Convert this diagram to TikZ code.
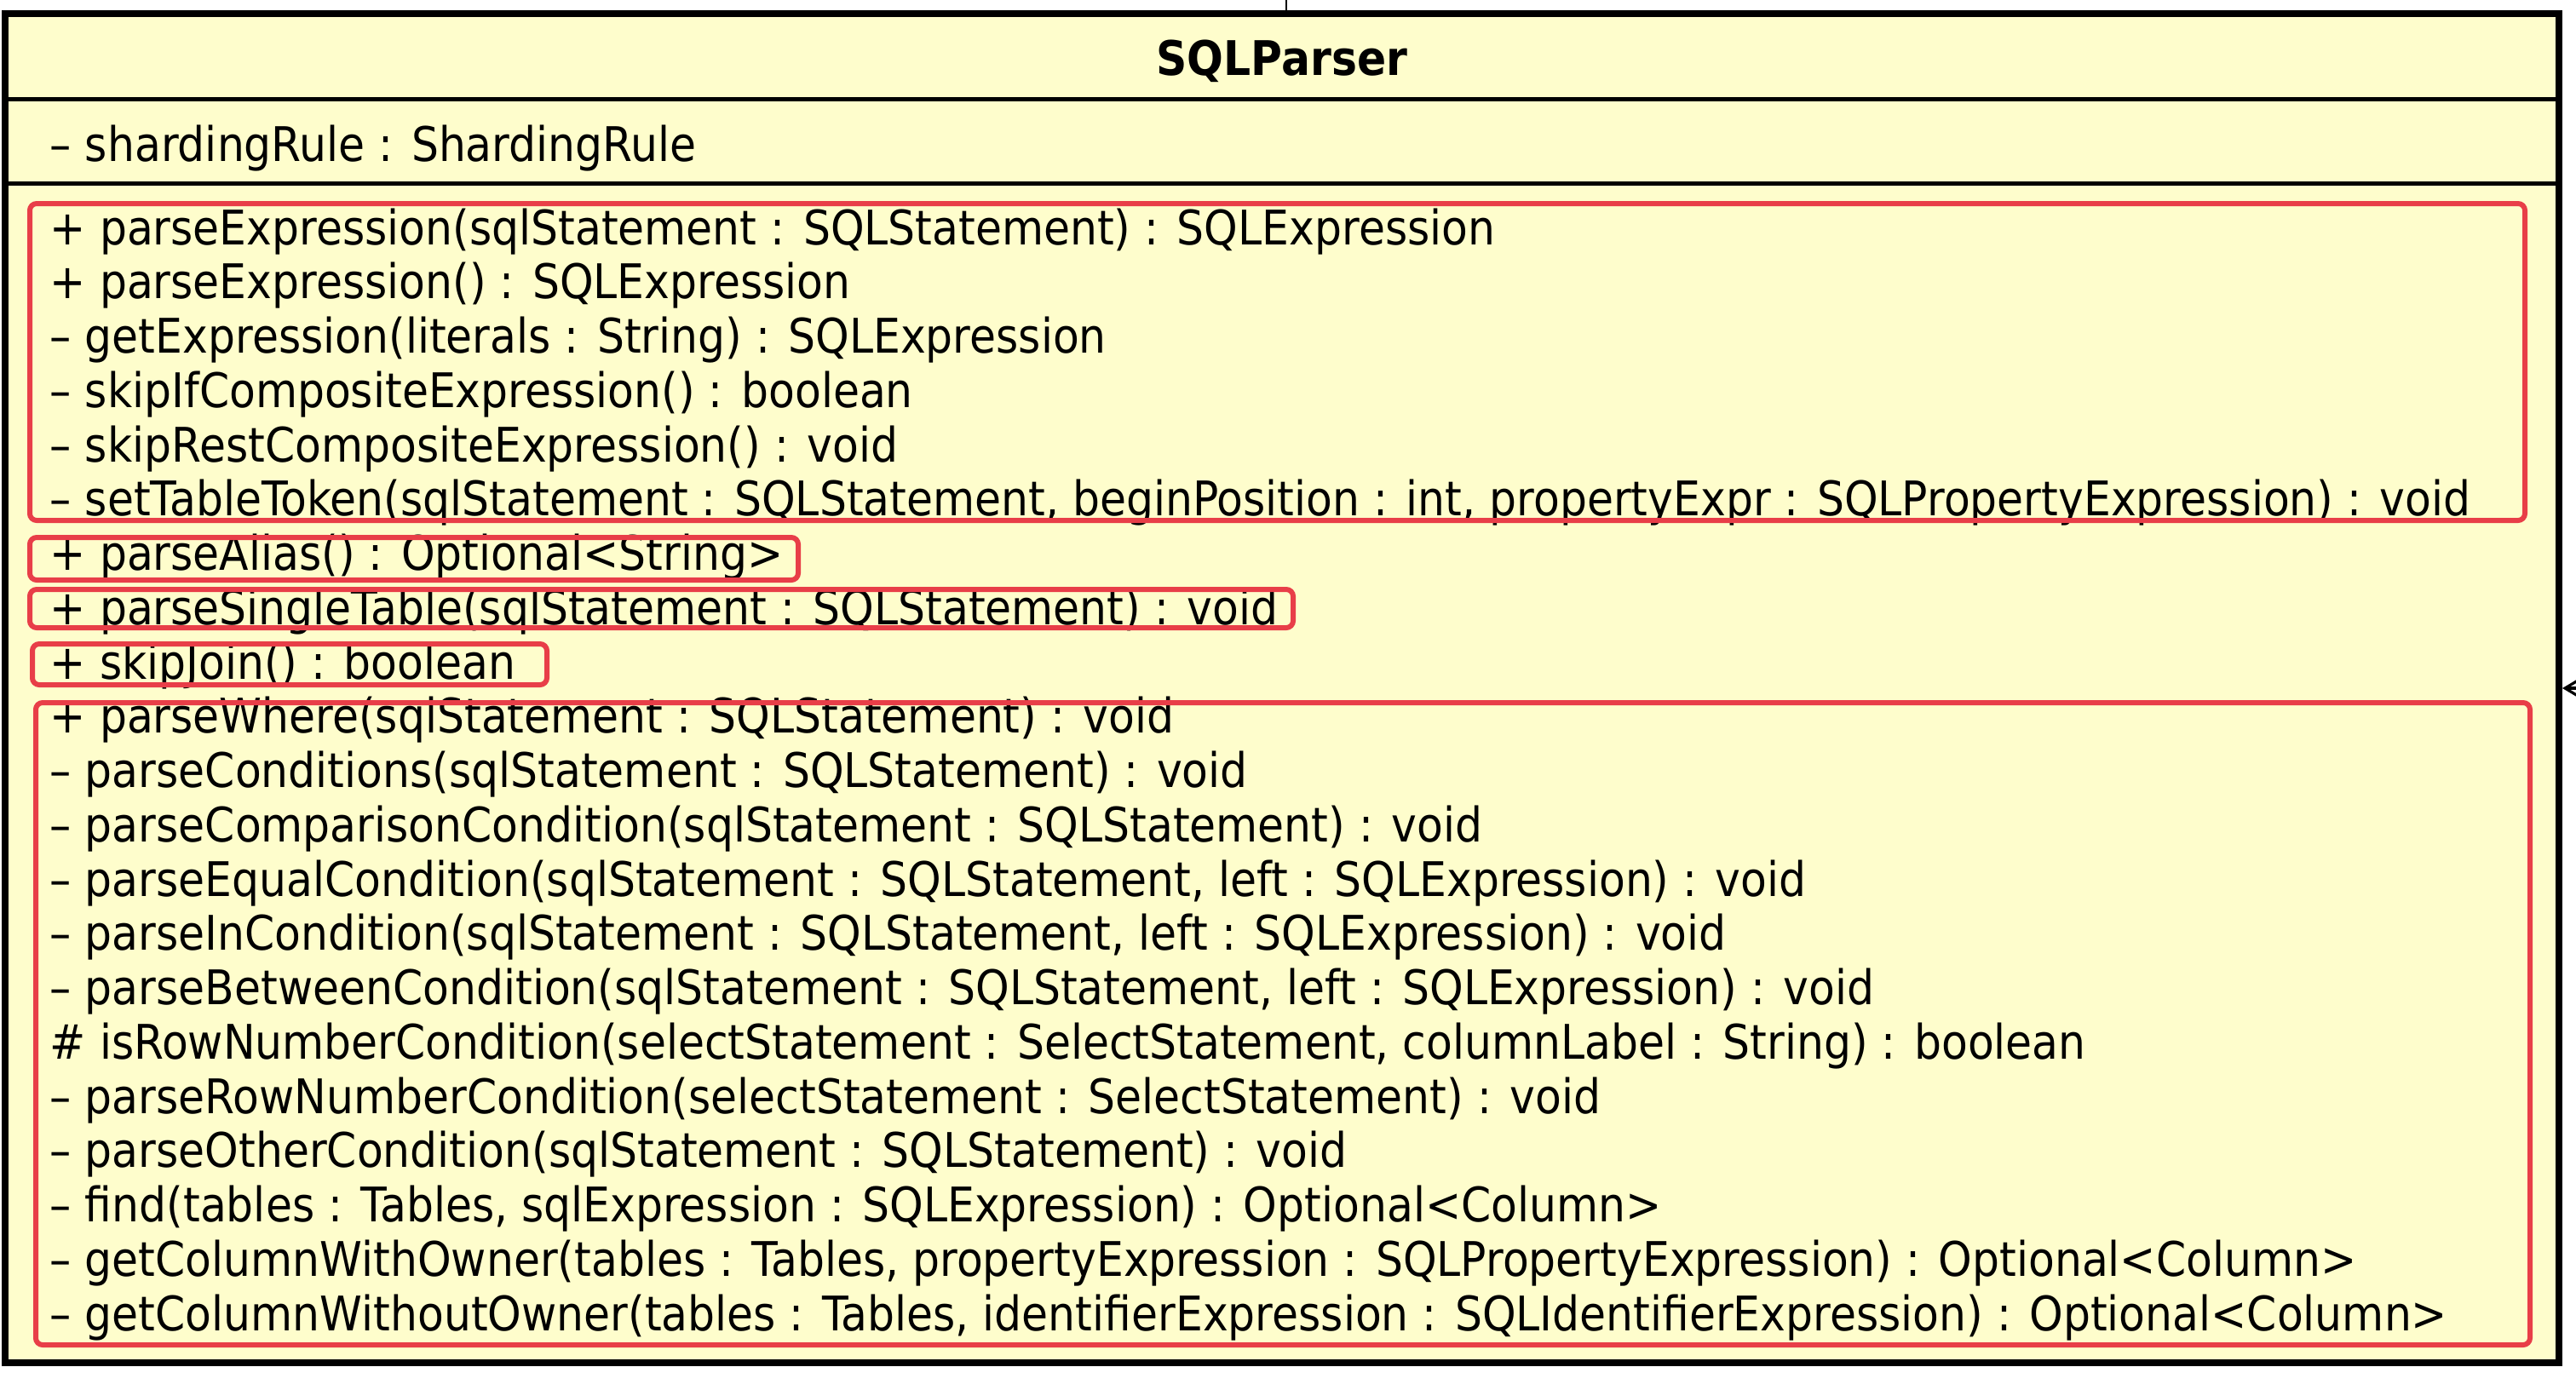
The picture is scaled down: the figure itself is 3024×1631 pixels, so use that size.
\documentclass[tikz,border=0pt]{standalone}
\usepackage{fontspec}
\setmainfont{DejaVu Sans}[FakeStretch=0.9]
\usetikzlibrary{arrows.meta}
\definecolor{umlfill}{RGB}{254,253,204}
\definecolor{hl}{RGB}{232,62,72}
\begin{document}
\begin{tikzpicture}[x=0.25pt,y=-0.25pt,
  member/.style={anchor=base west, inner sep=0pt, font=\fontsize{14}{16}\selectfont},
  sepline/.style={line width=1.25pt},
  hlbox/.style={draw=hl, line width=1.5pt, rounded corners=2pt},
  classbox/.style={draw, line width=2pt, fill=umlfill, minimum width=749.5pt, minimum height=396pt, inner sep=0pt}]
\useasboundingbox (0,0) rectangle (3024,1631);
\node[classbox] (cls) at (1505,808) {};
\draw[sepline] (cls.west |- 0,116) -- (cls.east |- 0,116);
\draw[sepline] (cls.west |- 0,215) -- (cls.east |- 0,215);
\node[anchor=base, inner sep=0pt, font=\fontsize{14}{16}\selectfont\bfseries] (title) at (1505,88) {SQLParser};
\node[member] (attr) at (58,189) {– shardingRule : ShardingRule};
\foreach \t [count=\i] in {
 {+ parseExpression(sqlStatement : SQLStatement) : SQLExpression},
 {+ parseExpression() : SQLExpression},
 {– getExpression(literals : String) : SQLExpression},
 {– skipIfCompositeExpression() : boolean},
 {– skipRestCompositeExpression() : void},
 {– setTableToken(sqlStatement : SQLStatement, beginPosition : int, propertyExpr : SQLPropertyExpression) : void},
 {+ parseAlias() : Optional<String>},
 {+ parseSingleTable(sqlStatement : SQLStatement) : void},
 {+ skipJoin() : boolean},
 {+ parseWhere(sqlStatement : SQLStatement) : void},
 {– parseConditions(sqlStatement : SQLStatement) : void},
 {– parseComparisonCondition(sqlStatement : SQLStatement) : void},
 {– parseEqualCondition(sqlStatement : SQLStatement, left : SQLExpression) : void},
 {– parseInCondition(sqlStatement : SQLStatement, left : SQLExpression) : void},
 {– parseBetweenCondition(sqlStatement : SQLStatement, left : SQLExpression) : void},
 {\# isRowNumberCondition(selectStatement : SelectStatement, columnLabel : String) : boolean},
 {– parseRowNumberCondition(selectStatement : SelectStatement) : void},
 {– parseOtherCondition(sqlStatement : SQLStatement) : void},
 {– find(tables : Tables, sqlExpression : SQLExpression) : Optional<Column>},
 {– getColumnWithOwner(tables : Tables, propertyExpression : SQLPropertyExpression) : Optional<Column>},
 {– getColumnWithoutOwner(tables : Tables, identifierExpression : SQLIdentifierExpression) : Optional<Column>}}
 \node[member] (m\i) at (58,{287+(\i-1)*63.75}) {\t};
\draw[hlbox] (35,239) rectangle (2964,611);
\draw[hlbox] (35,631) rectangle (937,681);
\draw[hlbox] (35,692) rectangle (1518,737);
\draw[hlbox] (38,756) rectangle (642,804);
\draw[hlbox] (42,825) rectangle (2970,1579);
\coordinate (topend) at (1510,-40);
\draw[line width=0.6pt] (topend) -- (topend |- cls.north);
\coordinate (rightend) at (3200,808);
\draw[line width=0.8pt, -{Straight Barb[length=10pt, width=12pt]}] (rightend) -- (rightend -| cls.east);
\end{tikzpicture}
\end{document}
